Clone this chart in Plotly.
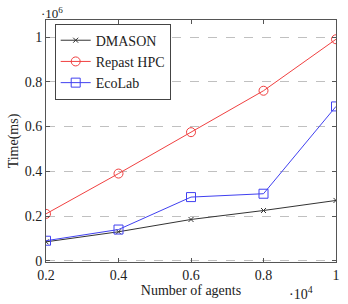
import plotly.graph_objects as go

agents = [2000, 4000, 6000, 8000, 10000]
dmason = [85000, 130000, 185000, 225000, 270000]
repast = [210000, 390000, 575000, 760000, 990000]
ecolab = [90000, 140000, 285000, 300000, 690000]

x_ticks = [2000, 4000, 6000, 8000, 10000]
x_ticktext = ["0.2", "0.4", "0.6", "0.8", "1"]
y_ticks = [0, 200000, 400000, 600000, 800000, 1000000]
y_ticktext = ["0", "0.2", "0.4", "0.6", "0.8", "1"]

FONT = "Liberation Serif"

fig = go.Figure()
fig.add_trace(go.Scatter(x=agents, y=dmason, name="DMASON", mode="lines+markers",
                         line=dict(color="#333333", width=1),
                         marker=dict(symbol="x-thin-open", size=5, color="#333333", line=dict(width=1, color="#333333"))))
fig.add_trace(go.Scatter(x=agents, y=repast, name="Repast HPC", mode="lines+markers",
                         line=dict(color="#f04040", width=1),
                         marker=dict(symbol="circle-open", size=9, color="#f04040", line=dict(width=1))))
fig.add_trace(go.Scatter(x=agents, y=ecolab, name="EcoLab", mode="lines+markers",
                         line=dict(color="#4040f0", width=1),
                         marker=dict(symbol="square-open", size=9, color="#4040f0", line=dict(width=1))))

fig.update_layout(
    width=348, height=304,
    margin=dict(l=46, r=8, t=20, b=42),
    paper_bgcolor="white", plot_bgcolor="white",
    font=dict(family=FONT, size=14, color="#222222"),
    showlegend=True,
    legend=dict(x=0.03, y=0.985, xanchor="left", yanchor="top",
                bgcolor="white", bordercolor="#444444", borderwidth=1,
                font=dict(family=FONT, size=14), tracegroupgap=0,
                itemwidth=30),
    xaxis=dict(range=[2000, 10000], tickvals=x_ticks, ticktext=x_ticktext,
               ticks="inside", ticklen=4, tickcolor="#555555",
               showline=True, linecolor="#555555", linewidth=1, mirror="ticks",
               showgrid=False, zeroline=False,
               title=dict(text="Number of agents", font=dict(family=FONT, size=14), standoff=0)),
    yaxis=dict(range=[-5000, 1076000], tickvals=y_ticks, ticktext=y_ticktext,
               ticks="inside", ticklen=4, tickcolor="#555555",
               showline=True, linecolor="#555555", linewidth=1, mirror="ticks",
               showgrid=True, gridcolor="#c0c0c0", griddash="dash", gridwidth=1,
               zeroline=False,
               title=dict(text="Time(ms)", font=dict(family=FONT, size=14), standoff=2)),
)

fig.add_annotation(text="·10<sup>6</sup>", xref="paper", yref="paper", x=0.02, y=1.0,
                   xanchor="center", yanchor="bottom", yshift=-3, showarrow=False,
                   font=dict(family=FONT, size=13))
fig.add_annotation(text="·10<sup>4</sup>", xref="paper", yref="paper", x=0.88, y=0.0,
                   xanchor="center", yanchor="top", yshift=-20, showarrow=False,
                   font=dict(family=FONT, size=14))

fig.write_html("out.html")
